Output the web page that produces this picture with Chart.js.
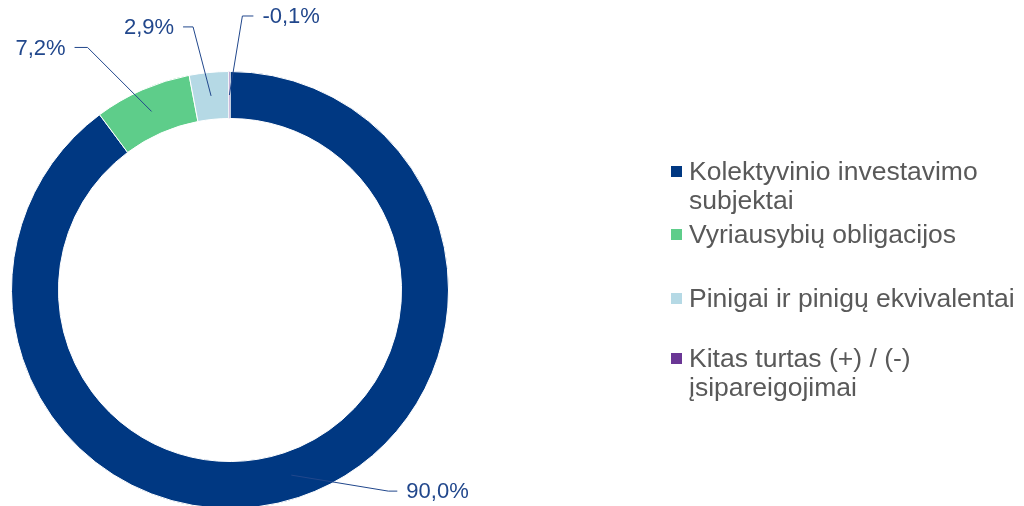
<!DOCTYPE html>
<html>
<head>
<meta charset="utf-8">
<script src="https://cdn.jsdelivr.net/npm/chart.js@4.4.1/dist/chart.umd.min.js"></script>
<style>
    html, body { margin: 0; padding: 0; background: #fff; overflow: hidden; }
    #wrap { position: relative; width: 1024px; height: 520px; }
</style>
</head>
<body>
<div id="wrap"><canvas id="assetChart"></canvas></div>
<script>
// Data
const categories = [
    'Kolektyvinio investavimo subjektai',
    'Vyriausybių obligacijos',
    'Pinigai ir pinigų ekvivalentai',
    'Kitas turtas (+) / (-) įsipareigojimai'
];
const shares = [90.0, 7.2, 2.9, -0.1];

// Styling
const sliceColors = ['#003882', '#5ECD8A', '#B5D9E5', '#6A3695'];
const labelColor = '#21478C';
const legendColor = '#595959';

// Leader line elbow offsets (from slice anchor) and label direction
const leaderOffsets = [[97, 16], [-64, -64], [-18, -69], [13, -79]];
const leaderDirs = [1, -1, -1, 1];
const leaderRuns = [9, 13, 10, 11];
// Legend layout
const legendBaselines = [180, 243, 307, 367];

const ctx = document.getElementById('assetChart').getContext('2d');

const leaderLabels = {
    id: 'leaderLabels',
    afterDatasetsDraw(chart) {
        const c = chart.ctx;
        const meta = chart.getDatasetMeta(0);
        c.save();
        c.font = '22px "Liberation Sans", Arial, sans-serif';
        c.textBaseline = 'middle';
        c.strokeStyle = labelColor;
        c.fillStyle = labelColor;
        c.lineWidth = 1;
        meta.data.forEach((arc, i) => {
            const p = arc.getProps(['x', 'y', 'startAngle', 'endAngle', 'innerRadius', 'outerRadius'], true);
            const mid = (p.startAngle + p.endAngle) / 2;
            const r = (p.innerRadius + p.outerRadius) / 2;
            const ax = p.x + Math.cos(mid) * r;
            const ay = p.y + Math.sin(mid) * r;
            const ex = ax + leaderOffsets[i][0];
            const ey = ay + leaderOffsets[i][1];
            const dir = leaderDirs[i];
            const hx = ex + dir * leaderRuns[i];
            c.beginPath();
            c.moveTo(ax, ay);
            c.lineTo(ex, ey);
            c.lineTo(hx, ey);
            c.stroke();
            c.textAlign = dir > 0 ? 'left' : 'right';
            const txt = shares[i].toFixed(1).replace('.', ',') + '%';
            c.fillText(txt, hx + dir * 9, ey + 1);
        });
        c.restore();
    }
};

const sideLegend = {
    id: 'sideLegend',
    afterDraw(chart) {
        const c = chart.ctx;
        const textX = 689;
        const maxW = 1024 - textX - 4;
        c.save();
        c.font = '26.5px "Liberation Sans", Arial, sans-serif';
        c.textBaseline = 'alphabetic';
        c.textAlign = 'left';
        chart.data.labels.forEach((label, i) => {
            // simple word wrap
            const words = label.split(' ');
            const lines = [];
            let line = '';
            words.forEach(w => {
                const test = line ? line + ' ' + w : w;
                if (c.measureText(test).width > maxW && line) {
                    lines.push(line);
                    line = w;
                } else {
                    line = test;
                }
            });
            lines.push(line);
            const base = legendBaselines[i];
            c.fillStyle = sliceColors[i];
            c.fillRect(671, base - 14, 11, 11);
            c.fillStyle = legendColor;
            lines.forEach((ln, j) => c.fillText(ln, textX, base + j * 29));
        });
        c.restore();
    }
};

new Chart(ctx, {
    type: 'doughnut',
    data: {
        labels: categories,
        datasets: [{
            data: shares,
            backgroundColor: sliceColors,
            borderColor: '#ffffff',
            borderWidth: 1
        }]
    },
    options: {
        responsive: true,
        maintainAspectRatio: false,
        animation: false,
        events: [],
        cutout: '78.5%',
        layout: {
            padding: { left: 11, right: 575, top: 71, bottom: 11 }
        },
        plugins: {
            legend: { display: false },
            tooltip: { enabled: false }
        }
    },
    plugins: [leaderLabels, sideLegend]
});
</script>
</body>
</html>
